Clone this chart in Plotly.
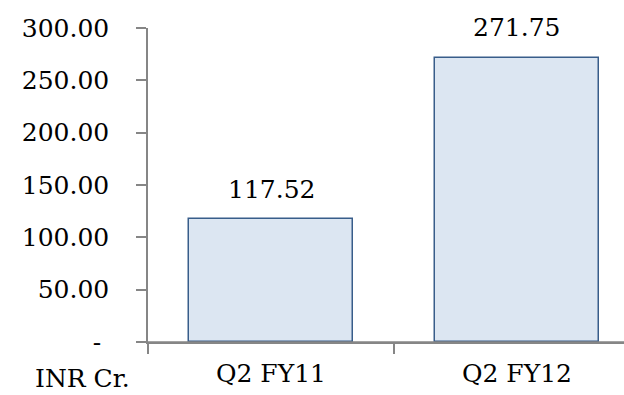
import plotly.graph_objects as go

categories = ["Q2 FY11", "Q2 FY12"]
values = [117.52, 271.75]
tick_vals = [0, 50, 100, 150, 200, 250, 300]
tick_text = ["-\u00a0", "50.00", "100.00", "150.00", "200.00", "250.00", "300.00"]
unit_label = "INR Cr."

FONT = "DejaVu Serif"
AXIS_GRAY = "#868686"

fig = go.Figure(
    go.Bar(
        x=categories,
        y=values,
        width=0.667,
        marker=dict(color="#dce6f2", line=dict(color="#385d8a", width=1.5)),
        hoverinfo="skip",
    )
)

# value labels above each bar
for cat, val in zip(categories, values):
    fig.add_annotation(
        x=cat, y=val, text=f"{val:.2f}", showarrow=False,
        yanchor="middle", yshift=30,
        font=dict(family=FONT, size=25, color="#000000"),
    )

# plot area in pixels
L, R, T, B = 148, 0, 28, 53
plot_w = 624 - L - R
plot_h = 395 - T - B

# unit caption under the y axis, at the category label baseline
fig.add_annotation(
    x=(82 - L) / plot_w, y=-(378 - (395 - B)) / plot_h,
    xref="x domain", yref="y domain",
    text=unit_label, showarrow=False,
    xanchor="center", yanchor="middle",
    font=dict(family=FONT, size=25, color="#000000"),
)

# gray baseline drawn over the bar bottoms
fig.add_shape(
    type="line", xref="x domain", yref="y",
    x0=0, x1=1, y0=0, y1=0,
    line=dict(color=AXIS_GRAY, width=1.5), layer="above",
)

fig.update_layout(
    width=624, height=395,
    margin=dict(l=L, r=R, t=T, b=B),
    paper_bgcolor="white", plot_bgcolor="white",
    showlegend=False,
    bargap=0,
)

fig.update_xaxes(
    range=[-0.5, 1.435],
    showline=True, linecolor=AXIS_GRAY, linewidth=1.5,
    ticks="outside", tickson="boundaries", ticklen=10, tickcolor=AXIS_GRAY, tickwidth=1.5,
    tickfont=dict(family=FONT, size=25, color="#000000"),
    ticklabelstandoff=8,
    showgrid=False, zeroline=False,
)
fig.update_yaxes(
    range=[0, 300],
    tickvals=tick_vals, ticktext=tick_text,
    showline=True, linecolor=AXIS_GRAY, linewidth=1.5,
    ticks="outside", ticklen=10, tickcolor=AXIS_GRAY, tickwidth=1.5,
    tickfont=dict(family=FONT, size=25, color="#000000"),
    ticklabelstandoff=22,
    showgrid=False, zeroline=False,
)

fig.write_html("out.html")
